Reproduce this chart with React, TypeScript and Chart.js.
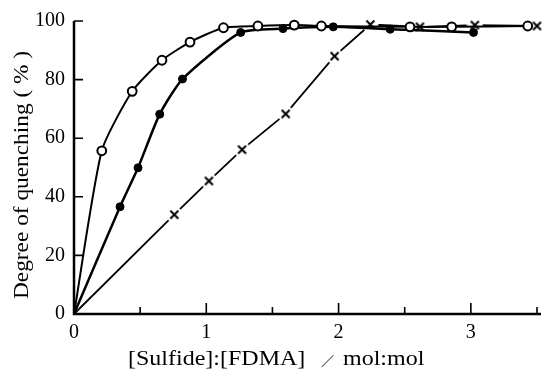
import React, { useEffect, useRef } from 'react';
import { Chart, registerables } from 'chart.js';

Chart.register(...registerables);

// Open circles
const openX = [0, 0.21, 0.44, 0.665, 0.877, 1.13, 1.39, 1.665, 1.87, 2.54, 2.855, 3.43];
const openY = [0, 55.7, 76, 86.6, 92.8, 97.7, 98.3, 98.6, 98.3, 98, 98, 98.3];
// Filled circles
const filledX = [0, 0.348, 0.484, 0.648, 0.82, 1.26, 1.58, 1.96, 2.39, 3.02];
const filledY = [0, 36.6, 49.9, 68.2, 80.2, 96.1, 97.4, 98, 97.2, 96.1];
// Crosses
const crossX = [0, 0.758, 1.02, 1.27, 1.6, 1.97, 2.24, 2.615, 3.03, 3.5];
const crossY = [0, 33.9, 45.4, 56.1, 68.3, 88, 98.8, 98, 98.6, 98.3];

const xTitleLeft = '[Sulfide]:[FDMA]';
const xTitleSlash = '\uFF0F';
const xTitleRight = 'mol:mol';
const yTitle = 'Degree of quenching ( % )';

const FONT = '"Liberation Serif", "Times New Roman", serif';

function makeCross(): HTMLCanvasElement {
  const c = document.createElement('canvas');
  c.width = 17;
  c.height = 17;
  const g = c.getContext('2d')!;
  g.fillStyle = '#fff';
  g.beginPath();
  g.arc(8.5, 8.5, 8, 0, Math.PI * 2);
  g.fill();
  g.strokeStyle = '#000';
  g.lineWidth = 2;
  g.beginPath();
  g.moveTo(4.5, 4.5);
  g.lineTo(12.5, 12.5);
  g.moveTo(12.5, 4.5);
  g.lineTo(4.5, 12.5);
  g.stroke();
  return c;
}

const axesPlugin = {
  id: 'axesInward',
  afterDraw(chart: any) {
    const { ctx, scales } = chart;
    const x = scales.x;
    const y = scales.y;
    const x0 = x.getPixelForValue(0);
    const y0 = y.getPixelForValue(0);
    const yTop = y.getPixelForValue(100);
    ctx.save();
    ctx.strokeStyle = '#000';
    ctx.lineWidth = 2.5;
    ctx.beginPath();
    ctx.moveTo(x0, yTop);
    ctx.lineTo(x0, y0);
    ctx.lineTo(x.right + 4, y0);
    ctx.stroke();
    ctx.lineWidth = 1.6;
    ctx.beginPath();
    x.ticks.forEach((t: any) => {
      if (t.value === 0) return;
      const px = x.getPixelForValue(t.value);
      const major = Number.isInteger(t.value);
      ctx.moveTo(px, y0);
      ctx.lineTo(px, y0 - (major ? 11 : 7));
    });
    y.ticks.forEach((t: any) => {
      if (t.value === 0) return;
      const py = y.getPixelForValue(t.value);
      ctx.moveTo(x0, py);
      ctx.lineTo(x0 + 9, py);
    });
    ctx.stroke();

    // axis titles
    ctx.fillStyle = '#000';
    ctx.textAlign = 'left';
    ctx.textBaseline = 'alphabetic';
    ctx.save();
    ctx.font = '20px "Liberation Serif", serif';
    ctx.translate(128, 365);
    ctx.scale(1.2, 1);
    ctx.fillText(xTitleLeft, 0, 0);
    ctx.restore();

    ctx.save();
    ctx.font = '13px "Noto Sans CJK JP", sans-serif';
    ctx.fillText(xTitleSlash, 321, 365.5);
    ctx.restore();

    ctx.save();
    ctx.font = '20px "Liberation Serif", serif';
    ctx.translate(343, 365);
    ctx.scale(1.2, 1);
    ctx.fillText(xTitleRight, 0, 0);
    ctx.restore();

    ctx.save();
    ctx.font = '22px "Liberation Serif", serif';
    ctx.translate(28, 175);
    ctx.rotate(-Math.PI / 2);
    ctx.scale(1.06, 1);
    ctx.textAlign = 'center';
    ctx.fillText(yTitle, 0, 0);
    ctx.restore();
    ctx.restore();
  },
};

export default function App() {
  const ref = useRef<HTMLCanvasElement | null>(null);
  useEffect(() => {
    document.body.style.margin = '0';
    const canvas = ref.current!;
    const cross = makeCross();
    const radii = (arr: number[], r: number) => arr.map((_, i) => (i === 0 ? 0 : r));
    const chart = new Chart(canvas, {
      type: 'line',
      data: {
        datasets: [
          {
            label: 'open',
            data: openX.map((x, i) => ({ x, y: openY[i] })),
            borderColor: '#000',
            borderWidth: 2,
            pointRadius: radii(openX, 4.4),
            pointBackgroundColor: '#fff',
            pointBorderColor: '#000',
            pointBorderWidth: 2,
            tension: 0.2,
            clip: false,
          } as any,
          {
            label: 'filled',
            data: filledX.map((x, i) => ({ x, y: filledY[i] })),
            borderColor: '#000',
            borderWidth: 2.5,
            pointRadius: radii(filledX, 4),
            pointBackgroundColor: '#000',
            pointBorderColor: '#000',
            pointBorderWidth: 1,
            tension: 0.2,
            clip: false,
          } as any,
          {
            label: 'cross',
            data: crossX.map((x, i) => ({ x, y: crossY[i] })),
            borderColor: '#000',
            borderWidth: 1.8,
            pointRadius: radii(crossX, 5),
            pointStyle: cross,
            tension: 0,
            clip: false,
          } as any,
        ],
      },
      options: {
        responsive: false,
        animation: false,
        events: [],
        layout: { padding: { left: 0, right: 7, top: 14, bottom: 0 } },
        plugins: { legend: { display: false }, tooltip: { enabled: false } },
        scales: {
          x: {
            type: 'linear',
            min: 0,
            max: 3.5,
            ticks: {
              stepSize: 0.5,
              autoSkip: false,
              maxRotation: 0,
              padding: 7,
              color: '#000',
              font: { family: FONT, size: 20 },
              callback: (v: any) => (Number.isInteger(v) ? String(v) : ''),
            },
            grid: { display: false, drawTicks: false },
            border: { display: false },
            afterFit: (s: any) => {
              s.height = 56;
            },
          },
          y: {
            type: 'linear',
            min: 0,
            max: 100,
            ticks: {
              stepSize: 20,
              padding: 9,
              color: '#000',
              font: { family: FONT, size: 20 },
            },
            grid: { display: false, drawTicks: false },
            border: { display: false },
            afterFit: (s: any) => {
              s.width = 74;
            },
          },
        },
      } as any,
      plugins: [axesPlugin],
    });
    return () => chart.destroy();
  }, []);
  return <canvas ref={ref} width={544} height={370} style={{ display: 'block' }} />;
}
